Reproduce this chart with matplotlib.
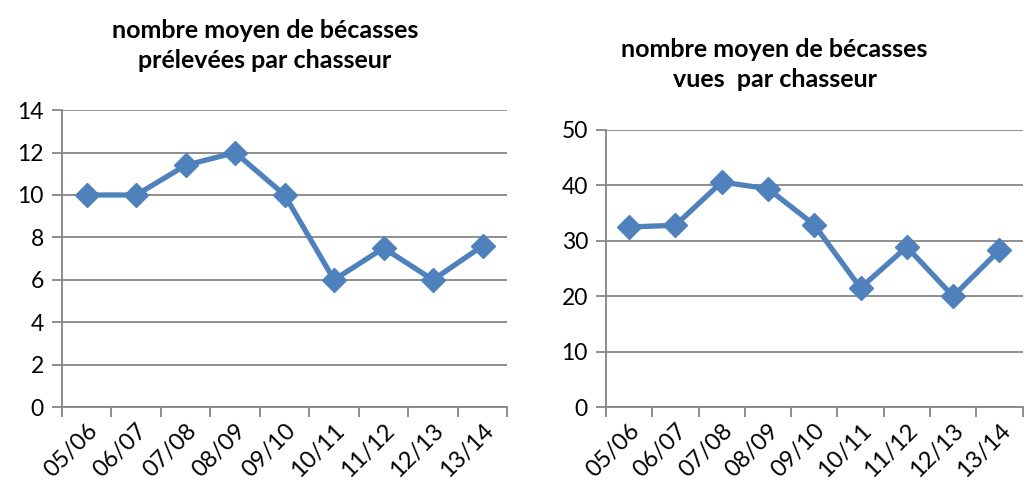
import numpy as np
import matplotlib
matplotlib.use("Agg")
import matplotlib.pyplot as plt

plt.rcParams['font.family'] = ['Lato', 'DejaVu Sans']

saisons = ['05/06', '06/07', '07/08', '08/09', '09/10', '10/11', '11/12', '12/13', '13/14']
prelevees = [10, 10, 11.4, 12, 10, 6, 7.5, 6, 7.6]
vues = [32.5, 32.8, 40.6, 39.4, 32.9, 21.5, 28.9, 20, 28.3]

BLUE = '#4F81BD'
GRID = '#868686'


def draw(ax, values, ymax, step):
    n = len(saisons)
    x = np.arange(n) + 0.5
    ax.plot(x, values, color=BLUE, linewidth=3.8, marker='D', markersize=12.5,
            markeredgecolor=BLUE, clip_on=False, zorder=3)
    ax.set_xlim(0, n)
    ax.set_ylim(0, ymax)
    ax.set_yticks(np.arange(0, ymax + step, step))
    ax.yaxis.grid(True, color=GRID, linewidth=1.3)
    ax.set_axisbelow(True)
    ax.set_xticks(np.arange(n + 1))
    ax.set_xticklabels([])
    ax.set_xticks(x, minor=True)
    ax.set_xticklabels(saisons, minor=True, rotation=45, ha='right', va='top',
                       rotation_mode='anchor', fontsize=17)
    ax.tick_params(axis='x', which='minor', length=0, pad=9)
    ax.tick_params(axis='x', which='major', length=7, width=1.3, color=GRID)
    ax.tick_params(axis='y', length=7, width=1.3, color=GRID, labelsize=16.5, pad=6)
    for side in ['top', 'right']:
        ax.spines[side].set_visible(False)
    for side in ['left', 'bottom']:
        ax.spines[side].set_color(GRID)
        ax.spines[side].set_linewidth(1.3)


fig = plt.figure(figsize=(10.26, 4.83), dpi=100)
ax1 = fig.add_axes([0.0604, 0.157, 0.434, 0.615])
ax2 = fig.add_axes([0.5906, 0.157, 0.406, 0.574])

draw(ax1, prelevees, 14, 2)
draw(ax2, vues, 50, 10)

fig.text(0.258, 0.906, "nombre moyen de bécasses\nprélevées par chasseur",
         ha='center', va='center', fontsize=18, fontweight='bold', linespacing=1.35)
fig.text(0.755, 0.866, "nombre moyen de bécasses\nvues  par chasseur",
         ha='center', va='center', fontsize=18, fontweight='bold', linespacing=1.35)

fig.savefig('out.png', dpi=100)
